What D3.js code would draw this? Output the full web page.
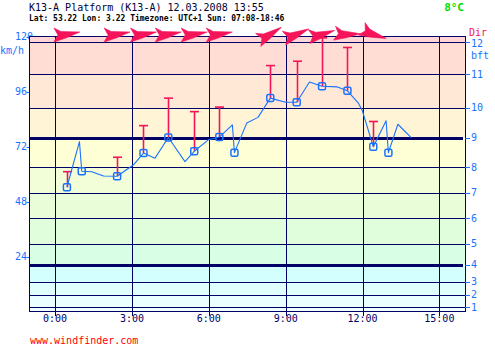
<!DOCTYPE html>
<html>
<head>
<meta charset="utf-8">
<script src="https://cdn.jsdelivr.net/npm/d3@7"></script>
<style>
  html, body { margin: 0; padding: 0; background: #ffffff; }
  svg { display: block; }
  text { font-family: "DejaVu Sans Mono", "Liberation Mono", monospace; }
</style>
</head>
<body>
<svg id="chart" width="495" height="348"></svg>
<script>
// Station header
const titleText = "K13-A Platform (K13-A) 12.03.2008 13:55";
const infoText = "Lat: 53.22 Lon: 3.22 Timezone: UTC+1 Sun: 07:08-18:46";
const tempText = "8°C";
const footerText = "www.windfinder.com";

// Wind speed trace (hour of day, km/h)
const traceHours = [0.46, 0.95, 1.04, 1.43, 1.89, 2.42, 3.05, 3.45, 3.90, 4.42, 5.07, 5.43, 5.98, 6.41, 6.92, 7.00, 7.48, 7.92, 8.40, 9.00, 9.43, 9.93, 10.42, 11.02, 11.41, 11.84, 11.99, 12.42, 12.92, 13.01, 13.38, 13.90];
const traceSpeed = [54.3, 74.2, 61.3, 61.1, 59.2, 59.1, 64.0, 69.2, 67.0, 76.0, 65.5, 70.0, 75.0, 76.2, 81.5, 69.4, 82.3, 84.8, 93.2, 91.4, 91.4, 100.2, 98.4, 98.1, 96.4, 91.0, 87.8, 72.0, 83.3, 69.4, 81.8, 76.0];

// Observations: mean speed, gusts and direction (degrees, wind from)
const obsHours = [0.46, 1.04, 2.42, 3.45, 4.42, 5.43, 6.41, 7.00, 8.40, 9.43, 10.42, 11.41, 12.42, 13.01];
const obsSpeed = [54.3, 61.3, 59.1, 69.2, 76.0, 70.0, 76.2, 69.4, 93.2, 91.4, 98.4, 96.4, 72.0, 69.4];
const obsGust = [61.1, null, 67.4, 81.2, 93.2, 87.3, 89.3, null, 107.4, 109.3, 119.5, 115.3, 83.0, null];
const obsDir = [270, null, 270, 270, 270, 270, 270, null, 248, 256, 263, 278, 298, null];

// Axes
const kmhTicks = [24, 48, 72, 96, 120];
const hourTicks = [0, 3, 6, 9, 12, 15];
const hourLabels = ["0:00", "3:00", "6:00", "9:00", "12:00", "15:00"];
// Beaufort lower limits in km/h (1..12 bft)
const bftLevels = [1, 2, 3, 4, 5, 6, 7, 8, 9, 10, 11, 12];
const bftLimits = [1.9, 7.4, 13.0, 20.4, 29.6, 40.7, 51.9, 63.0, 75.9, 88.9, 103.7, 117.6];
const bftThick = [4, 9];
// Background colour for each Beaufort band, calm to hurricane
const bandColors = ["#f0ffff", "#eaffff", "#e0ffff", "#d4ffff", "#d8fee6", "#e0fedc", "#e9fed8", "#f2fed8", "#ffffd6", "#fff4d6", "#ffe8d6", "#ffdcd4", "#ffd5d5"];

const navy = "#000066";
const blue = "#1a72ff";
const pink = "#f5145a";

const svg = d3.select("#chart");
const plotLeft = 29.5, plotRight = 465, plotTop = 36.5, plotBottom = 311.5;

const x = d3.scaleLinear().domain([-1, 16]).range([plotLeft, plotRight]);
const y = d3.scaleLinear().domain([0, 120]).range([311.7, 36.7]);

// Header
svg.append("text").attr("x", 29).attr("y", 11).attr("font-size", 10).attr("fill", "#000033").text(titleText);
svg.append("text").attr("x", 29).attr("y", 20.5).attr("font-size", 8).attr("font-weight", "bold").attr("fill", "#000000").text(infoText);
svg.append("text").attr("x", 464).attr("y", 11).attr("text-anchor", "end").attr("font-size", 11).attr("font-weight", "bold").attr("fill", "#00dd00").text(tempText);

// Left km/h labels (drawn first so the plot covers overflow)
svg.append("g").selectAll("text").data(kmhTicks).join("text")
  .attr("x", 15).attr("y", d => y(d)).attr("dy", "0.35em")
  .attr("font-size", 10).attr("fill", blue).text(d => d);
svg.append("g").selectAll("line").data(kmhTicks).join("line")
  .attr("x1", 26.5).attr("x2", plotLeft).attr("y1", d => Math.round(y(d)) + 0.5).attr("y2", d => Math.round(y(d)) + 0.5)
  .attr("stroke", blue).attr("stroke-width", 1);
svg.append("text").attr("x", 0).attr("y", 50).attr("dy", "0.35em").attr("font-size", 10).attr("fill", blue).text("km/h");

// Beaufort bands
const bandEdges = [0, ...bftLimits, 120];
svg.append("g").selectAll("rect").data(bandColors).join("rect")
  .attr("x", plotLeft).attr("width", plotRight - plotLeft)
  .attr("y", (c, i) => y(bandEdges[i + 1]))
  .attr("height", (c, i) => y(bandEdges[i]) - y(bandEdges[i + 1]))
  .attr("fill", c => c).attr("shape-rendering", "crispEdges");

// Beaufort grid lines
const grid = svg.append("g").attr("shape-rendering", "crispEdges");
grid.selectAll("line.h").data(bftLevels).join("line").attr("class", "h")
  .attr("x1", plotLeft).attr("x2", d => bftThick.includes(d) ? plotRight - 2 : plotRight)
  .attr("y1", (d, i) => Math.round(y(bftLimits[i])) + 0.5)
  .attr("y2", (d, i) => Math.round(y(bftLimits[i])) + 0.5)
  .attr("stroke", navy).attr("stroke-width", d => bftThick.includes(d) ? 3 : 1);

// Hour grid lines with ticks below the frame
grid.selectAll("line.v").data(hourTicks).join("line").attr("class", "v")
  .attr("x1", d => Math.round(x(d)) + 0.5).attr("x2", d => Math.round(x(d)) + 0.5)
  .attr("y1", plotTop).attr("y2", plotBottom + 4)
  .attr("stroke", navy).attr("stroke-width", 1);

// Frame
svg.append("rect").attr("x", plotLeft).attr("y", plotTop).attr("width", plotRight - plotLeft).attr("height", plotBottom - plotTop)
  .attr("fill", "none").attr("stroke", navy).attr("stroke-width", 1).attr("shape-rendering", "crispEdges");

// Right Beaufort scale
const rightAxis = svg.append("g");
rightAxis.selectAll("line").data(bftLevels).join("line")
  .attr("x1", plotRight).attr("x2", plotRight + 5)
  .attr("y1", (d, i) => Math.round(y(bftLimits[i])) + 0.5)
  .attr("y2", (d, i) => Math.round(y(bftLimits[i])) + 0.5)
  .attr("stroke", blue).attr("stroke-width", 1).attr("shape-rendering", "crispEdges");
rightAxis.selectAll("text").data(bftLevels).join("text")
  .attr("x", 471).attr("y", (d, i) => y(bftLimits[i]) + (d === 12 ? 1.6 : 0)).attr("dy", "0.35em")
  .attr("font-size", 10).attr("fill", blue).text(d => d);
svg.append("text").attr("x", 471).attr("y", 55).attr("dy", "0.35em").attr("font-size", 10).attr("fill", blue).text("bft");
svg.append("text").attr("x", 469).attr("y", 32).attr("dy", "0.35em").attr("font-size", 10).attr("fill", pink).text("Dir");

// Hour labels
svg.append("g").selectAll("text").data(hourTicks).join("text")
  .attr("x", d => x(d)).attr("y", 318.5).attr("dy", "0.35em").attr("text-anchor", "middle")
  .attr("font-size", 10).attr("fill", navy).text((d, i) => hourLabels[i]);

// Footer
svg.append("text").attr("x", 30).attr("y", 340.5).attr("dy", "0.35em").attr("font-size", 10).attr("fill", "#ff0000").text(footerText);

// Gust bars
const obs = obsHours.map((h, i) => ({ h, v: obsSpeed[i], g: obsGust[i], dir: obsDir[i] }));
const gusts = svg.append("g").attr("stroke", pink).attr("stroke-width", 1.6);
obs.filter(d => d.g !== null).forEach(d => {
  const cx = Math.round(x(d.h)) + 0.5;
  gusts.append("line").attr("x1", cx).attr("x2", cx).attr("y1", y(d.v)).attr("y2", y(d.g));
  gusts.append("line").attr("x1", cx - 4.5).attr("x2", cx + 4.5).attr("y1", y(d.g)).attr("y2", y(d.g));
});

// Wind speed trace
const trace = traceHours.map((h, i) => [h, traceSpeed[i]]);
svg.append("path").datum(trace)
  .attr("d", d3.line().x(d => x(d[0])).y(d => y(d[1])))
  .attr("fill", "none").attr("stroke", blue).attr("stroke-width", 1.1).attr("stroke-linejoin", "round");

// Observation markers
svg.append("g").selectAll("rect").data(obs).join("rect")
  .attr("x", d => x(d.h) - 3.5).attr("y", d => y(d.v) - 3.5)
  .attr("width", 7).attr("height", 7).attr("rx", 1.5)
  .attr("fill", "none").attr("stroke", blue).attr("stroke-width", 1.5);

// Direction arrows along the top edge (pointing where the wind blows)
const arrowShape = "M-13,-7 L-6,-3.5 L13,-3 L-1,3 L-13,7 L-9,0 Z";
svg.append("g").selectAll("path").data(obs.filter(d => d.dir !== null)).join("path")
  .attr("d", arrowShape)
  .attr("transform", d => `translate(${x(d.h)},35) rotate(${d.dir - 270})`)
  .attr("fill", pink).attr("stroke", pink).attr("stroke-width", 0.6).attr("stroke-linejoin", "round");
</script>
</body>
</html>
